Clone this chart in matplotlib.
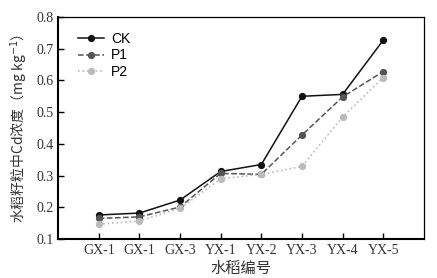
import matplotlib.pyplot as plt

# 水稻编号
varieties = ["GX-1", "GX-1", "GX-3", "YX-1", "YX-2", "YX-3", "YX-4", "YX-5"]
ck = [0.176, 0.182, 0.223, 0.313, 0.335, 0.550, 0.556, 0.727]
p1 = [0.165, 0.170, 0.201, 0.307, 0.304, 0.428, 0.548, 0.628]
p2 = [0.147, 0.157, 0.197, 0.290, 0.304, 0.329, 0.485, 0.609]

serif = ["Liberation Serif", "DejaVu Serif"]
cjk = ["Noto Sans CJK SC", "DejaVu Sans"]

fig = plt.figure(figsize=(4.37, 2.78), dpi=100)
ax = fig.add_axes([0.133, 0.140, 0.837, 0.799])

x = list(range(1, len(varieties) + 1))
ax.plot(x, ck, "-o", color="#111111", lw=1.1, ms=4.2, label="CK")
ax.plot(x, p1, "--o", color="#555555", lw=1.1, ms=4.2, label="P1")
ax.plot(x, p2, ":o", color="#bbbbbb", lw=1.2, ms=4.2, label="P2")

ax.set_xlim(0, 9)
ax.set_ylim(0.1, 0.8)
ax.set_xticks(x)
ax.set_xticklabels(varieties, family=serif, fontsize=10, color="#333333")
ax.set_yticks([0.1, 0.2, 0.3, 0.4, 0.5, 0.6, 0.7, 0.8])
ax.set_yticklabels(["0.1", "0.2", "0.3", "0.4", "0.5", "0.6", "0.7", "0.8"],
                   family=serif, fontsize=10, color="#333333")
ax.tick_params(direction="in", length=4, width=1)
for side in ["left", "bottom"]:
    ax.spines[side].set_linewidth(1.5)
for side in ["top", "right"]:
    ax.spines[side].set_linewidth(0.9)

ax.set_xlabel("水稻编号", family=cjk, fontsize=11, color="#333333", labelpad=2)
ax.set_ylabel("水稻籽粒中Cd浓度（mg kg$^{-1}$）", family=cjk, fontsize=10,
              color="#333333", labelpad=4)

leg = ax.legend(loc="upper left", bbox_to_anchor=(0.02, 0.99), frameon=False,
                handlelength=1.9, handletextpad=0.5, labelspacing=0.2,
                prop={"family": "Liberation Sans", "size": 10})

plt.savefig("out.png", dpi=100)
plt.close()
